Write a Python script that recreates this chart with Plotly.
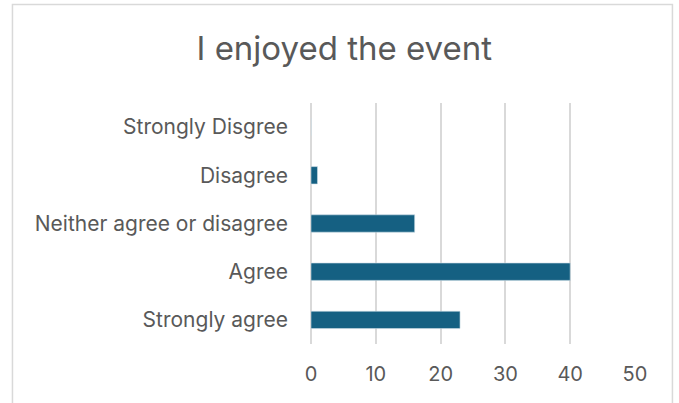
import plotly.graph_objects as go

categories = ["Strongly agree", "Agree", "Neither agree or disagree", "Disagree", "Strongly Disgree"]
values = [23, 40, 16, 1, 0]
tick_vals = [0, 10, 20, 30, 40, 50]

FONT = "Inter"
GREY = "#595959"

fig = go.Figure(go.Bar(
    y=categories, x=values, orientation="h",
    marker=dict(color="#156082", line=dict(width=0.6, color="#cfdde6")),
    width=0.36,
))

fig.update_layout(
    width=679, height=403,
    margin=dict(l=311, r=43.5, t=103, b=59),
    paper_bgcolor="white", plot_bgcolor="white",
    showlegend=False,
    title=dict(text="I enjoyed the event", x=0.507, xanchor="center", xref="container",
               y=1 - 48 / 403, yanchor="middle", yref="container",
               font=dict(family=FONT, size=33, color=GREY)),
    font=dict(family=FONT, color=GREY),
    shapes=[dict(type="rect", xref="paper", yref="paper",
                 x0=(12 - 311) / 324.5, x1=(673 - 311) / 324.5,
                 y0=(344 - 410) / 241, y1=(344 - 4.5) / 241,
                 line=dict(color="#d9d9d9", width=1.5), layer="below")],
)
fig.update_xaxes(range=[0, 50], tickvals=tick_vals, showgrid=True, gridcolor="#d9d9d9", gridwidth=1.5,
                 zeroline=True, zerolinecolor="#d9d9d9", zerolinewidth=1.5, showline=False,
                 tickfont=dict(family=FONT, size=20, color=GREY), ticklabelstandoff=16, fixedrange=True)
fig.update_yaxes(range=[-0.5, 4.5], showgrid=False, showline=False, zeroline=False,
                 tickfont=dict(family=FONT, size=21, color=GREY), ticklabelstandoff=22, fixedrange=True)

fig.write_html("out.html", config=dict(displayModeBar=False),
               post_script="document.body.style.margin='0';document.body.style.overflow='hidden';")
